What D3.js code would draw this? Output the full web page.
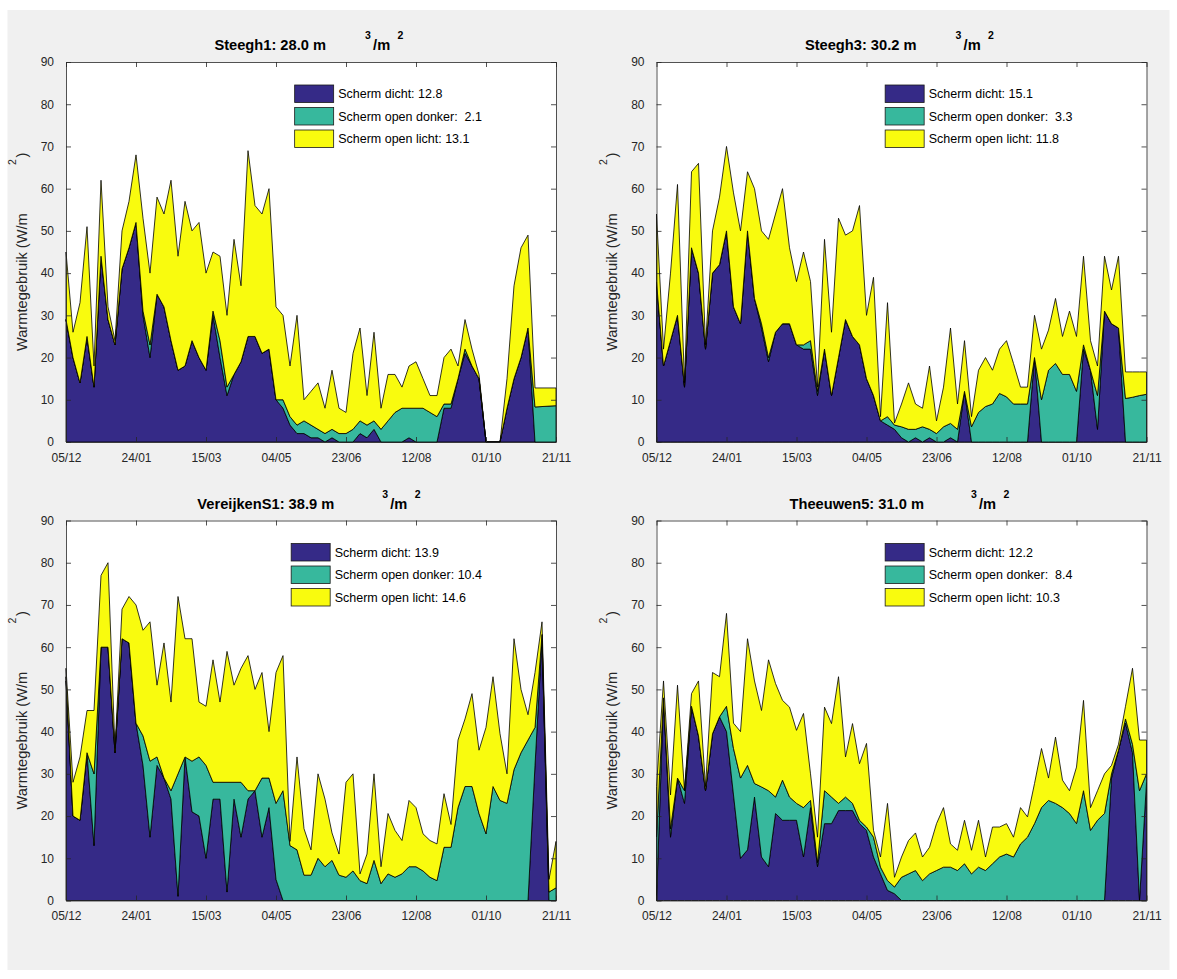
<!DOCTYPE html>
<html>
<head>
<meta charset="utf-8">
<script src="https://cdn.jsdelivr.net/npm/d3@7"></script>
<style>
body { margin: 0; background: #fff; }
text { white-space: pre; }
</style>
</head>
<body>
<svg id="fig" width="1177" height="979"></svg>
<script>
// Warmtegebruik per scherm-toestand, vier bedrijven
/* global d3 */

// x: dagen vanaf 05/12
var days = [0,5,10,15,20,25,30,35,40,45,50,55,60,65,70,75,80,85,90,95,100,105,110,115,120,125,130,135,140,145,150,155,160,165,170,175,180,185,190,195,200,205,210,215,220,225,230,235,240,245,250,255,260,265,270,275,280,285,290,295,300,305,310,315,320,325,330,335,340,345,350]
var tickDays = [0,50,100,150,200,250,300,350]
var tickLabels = ['05/12','24/01','15/03','04/05','23/06','12/08','01/10','21/11']
var yTicks = [0,10,20,30,40,50,60,70,80,90]

var seriesNames = ['Scherm dicht','Scherm open donker','Scherm open licht']
var colors = ['#352a87','#37b89d','#f9fb0e']

var panelNames = ['Steegh1','Steegh3','VereijkenS1','Theeuwen5']
var panelVolumes = ['28.0','30.2','38.9','31.0']
var legendTotals = [['12.8',' 2.1','13.1'],['15.1',' 3.3','11.8'],['13.9','10.4','14.6'],['12.2',' 8.4','10.3']]

// W/m2 per serie (gestapeld)
var steegh1Dicht = [29,20,14,25,13,44,29,23,41,46,52,30,20,35,32,24,17,18,24,20,17,30,20,11,16,19,25,25,21,22,10,8,4,2,2,1,1,0,1,0,0,0,2,1,3,0,0,0,0,1,0,0,0,0,8,8,15,21,18,15,0,0,0,8,15,20,27,0,0,0,0]
var steegh1Donker = [0,0,0,0,0,0,0,0,0,0,0,1,3,0,0,0,0,0,0,0,0,1,4,2,0,0,0,0,0,0,0,2,2,2,3,3,2,2,2,2,2,3,3,3,2,3,5,7,8,7,8,8,7,6,1,1,0,1,0,0,0,0,0,0,0,0,0,8.3,8.4,8.5,8.6]
var steegh1Licht = [16,6,19,26,5,18,3,1,9,11,16,22,17,23,22,38,27,39,26,32,23,14,20,17,32,18,44,31,33,38,22,20,12,26,5,8,11,6,14,6,5,18,22,7,21,5,11,9,5,10,11,7,4,5,11,13,3,7,4,1,0,0,0,7,22,26,22,4.5,4.4,4.3,4.2]

var steegh3Dicht = [38,18,24,30,13,46,40,22,40,42,50,32,28,50,34,27,19,26,28,28,23,22,22,11,22,11,20,29,25,23,15,11,5,4,3,1,0,1,0,1,0,0,1,0,12,0,0,0,0,0,0,0,0,0,20,0,0,0,0,0,0,22,17,3,31,28,27,0,0,0,0]
var steegh3Donker = [0,0,0,0,0,0,0,0,0,0,0,0,0,0,0,1,1,0,0,0,0,1,2,1,0,0,0,0,0,0,0,0,0,2,1,2.6,3,2,3.6,2,2,3.6,3.4,3,0,3.6,7,8.4,9,11.5,10.7,9,9,9,0,10,17,18.6,16,16,12,1,0,8,0,0,0,10.3,10.6,11,11.3]
var steegh3Licht = [16,4,16,31,1,18,26,1,10,16,20,27,22,14,26,22,28,28,32,18,15,22,14,1,26,15,33,20,25,33,15,28,1,27,0.5,5.4,11,6,4.4,15,3,9.4,22.6,6,12,2.4,10,11.6,8,10.5,13.3,9.6,4,4,10,12,9.5,15.4,9,15,13,21,7,7,13,8,17,6.3,6,5.6,5.3]

var vereijkenDicht = [52,20,19,35,13,60,60,35,62,61,42,32,15,32,29,24,1,34,21,20,10,24,24,2,24,15,24,26,15,22,5,0,0,0,0,0,0,0,0,0,0,0,0,0,0,0,0,0,0,0,0,0,0,0,0,0,0,0,0,0,0,0,0,0,0,0,0,32,62,0,0]
var vereijkenDonker = [1,0,0,0,17,0,0,0,0,0,0,7,18,2,0,2,29,0,12,14,22,4,4,26,4,13,2,0,14,7,18,26,13,12,6,6,10,8,9.5,6,5.5,7,4.7,4,9.5,4,6.3,5.5,6.3,8,8,7,5.5,4.7,12.6,12.6,22,27,27,20.6,15.8,27,23.7,23,31,35,38,9,1,2,3]
var vereijkenLicht = [2,8,15,10,15,17,20,1,7,11,28,25,33,17,32,21,42,28,29,13,14,29,19,31,23,27,32,24,25,11,31,32,1,22,11,6,20,16,6.5,5,22.5,23,1.6,7,20.5,4,14.3,11.1,7.9,15.7,14,8.8,8.7,8.7,12.7,5.4,16,16,22,15,25.2,26,15.8,7,31,15,6,13,3,3,11]

var theeuwenDicht = [0,48,15,29,23,46,39,26,39.5,43.5,40,25,10,12,24.5,10.3,8,20.6,19,19,19,10.3,22,8,18.2,18.2,21.3,21.3,21.3,18.2,16.6,10.3,6.3,2.4,1.6,0,0,0,0,0,0,0,0,0,0,0,0,0,0,0,0,0,0,0,0,0,0,0,0,0,0,0,0,0,0,29,35.6,42,35,0,28]
var theeuwenDonker = [15,0,2,0,3,0,0,0,0,0,6,11,19,20,3.2,16.6,18,3.9,9.5,5.5,4,11.7,1.7,1,7.8,6.3,1.7,3.2,1.7,0.8,0.8,4.7,1.6,2.3,1.6,5.5,6.3,7.1,4.7,6.3,7.1,7.9,7.9,7.1,8.7,6.3,7.9,7.1,8.7,10.3,11,10.3,13.4,15,18.2,22,23.7,23,22,20.6,18.2,26,16.6,19,20.6,1,0,1,2,26,2]
var theeuwenLicht = [12,4,8,22,0,3,13,1,14.5,9.5,22,6,11,30,24.3,18.1,31,26.9,18.9,21.3,17.3,22.3,6.3,6,19.8,17.4,30,9.5,18.9,13.4,19.8,1.6,2.4,18.3,2.3,4.8,7.9,8.9,5.6,6.3,11.1,14.1,5.5,4.8,10.3,5.6,11.1,3.2,8.7,7.1,7.2,4.7,8.6,4.8,9.5,14,5.3,15.7,6.5,5.4,13.4,21.4,5.4,7,9.4,2,1.4,3,18,12,8]

var FONT = '"Liberation Sans", Arial, Helvetica, sans-serif'
var INK = '#262626'
var W = 490, H = 380

var svg = d3.select('#fig')

// figure background
svg.append('rect').attr('x',7.5).attr('y',10).attr('width',1162).attr('height',960).attr('fill','#f0f0f0')

var panels = [
	{name: panelNames[0], volume: panelVolumes[0], totals: legendTotals[0], series: [steegh1Dicht, steegh1Donker, steegh1Licht], left: 66, top: 62},
	{name: panelNames[1], volume: panelVolumes[1], totals: legendTotals[1], series: [steegh3Dicht, steegh3Donker, steegh3Licht], left: 656.5, top: 62},
	{name: panelNames[2], volume: panelVolumes[2], totals: legendTotals[2], series: [vereijkenDicht, vereijkenDonker, vereijkenLicht], left: 66, top: 520.5},
	{name: panelNames[3], volume: panelVolumes[3], totals: legendTotals[3], series: [theeuwenDicht, theeuwenDonker, theeuwenLicht], left: 656.5, top: 520.5}
]

panels.forEach(function(p) {
	var g = svg.append('g').attr('transform','translate(' + p.left + ',' + p.top + ')')

	var x = d3.scaleLinear().domain([0,350]).range([0,W])
	var y = d3.scaleLinear().domain([0,90]).range([H,0])

	g.append('rect').attr('width',W).attr('height',H).attr('fill','#fff')

	// stacked areas
	var rows = days.map(function(d,i) {
		return {day: d, dicht: p.series[0][i], donker: p.series[1][i], licht: p.series[2][i]}
	})
	var layers = d3.stack().keys(['dicht','donker','licht'])(rows)
	var area = d3.area()
		.x(function(d) { return x(d.data.day) })
		.y0(function(d) { return y(d[0]) })
		.y1(function(d) { return y(d[1]) })

	g.selectAll('path.layer').data(layers)
		.enter().append('path')
		.attr('class','layer')
		.attr('d', area)
		.attr('fill', function(d,i) { return colors[i] })
		.attr('stroke','#000')
		.attr('stroke-width',0.8)
		.attr('stroke-linejoin','round')

	// axes, ticks inside on all four sides
	function style(sel) {
		sel.attr('font-family',FONT).attr('font-size',12)
		sel.selectAll('path,line').attr('stroke',INK).attr('stroke-width',0.8)
		sel.selectAll('text').attr('fill',INK)
	}
	g.append('g').attr('transform','translate(0,' + H + ')')
		.call(d3.axisBottom(x).tickValues(tickDays)
			.tickFormat(function(d,i) { return tickLabels[i] })
			.tickSizeInner(-5).tickSizeOuter(0).tickPadding(11))
		.call(style)
	g.append('g')
		.call(d3.axisTop(x).tickValues(tickDays).tickFormat('').tickSizeInner(-5).tickSizeOuter(0))
		.call(style)
	g.append('g')
		.call(d3.axisLeft(y).tickValues(yTicks).tickSizeInner(-5).tickSizeOuter(0).tickPadding(12))
		.call(style)
	g.append('g').attr('transform','translate(' + W + ',0)')
		.call(d3.axisRight(y).tickValues(yTicks).tickFormat('').tickSizeInner(-5).tickSizeOuter(0))
		.call(style)

	// legend
	var lg = g.append('g').attr('font-family',FONT).attr('font-size',12.5).attr('fill','#000')
	var labels = seriesNames.map(function(n,i) { return n + ': ' + p.totals[i] })
	var items = lg.selectAll('text').data(labels).enter().append('text').text(function(d) { return d })
	var mw = d3.max(items.nodes(), function(n) { return n.getComputedTextLength() })
	var px = 418 - 2 - mw - 43.5
	labels.forEach(function(l,i) {
		lg.append('rect')
			.attr('x',px).attr('y',23 + i*22.5)
			.attr('width',39).attr('height',17.5)
			.attr('fill',colors[i]).attr('stroke','#1a1a1a').attr('stroke-width',0.8)
	})
	items.attr('x',px + 43.5).attr('y',function(d,i) { return 23 + i*22.5 + 13.2 })

	// title with the odd superscript spacing
	var tg = svg.append('g').attr('font-family',FONT).attr('font-weight','bold').attr('fill','#000')
	var main = tg.append('text').attr('font-size',14.67).text(p.name + ': ' + p.volume + ' m')
	var w = main.node().getComputedTextLength()
	var sx = p.left + W/2 - 2 - (1.35*w + 38.5)/2
	var by = p.top - 12
	main.attr('x',sx).attr('y',by)
	tg.append('text').attr('font-size',10.5).attr('x',sx + 1.35*w).attr('y',by - 11).text('3')
	tg.append('text').attr('font-size',14.67).attr('x',sx + 1.35*w + 8).attr('y',by).text('/m')
	tg.append('text').attr('font-size',10.5).attr('x',sx + 1.35*w + 32.5).attr('y',by - 11).text('2')

	// y label, same spacing glitch
	var yg = svg.append('g').attr('font-family',FONT).attr('fill',INK)
	var lbl = yg.append('text').attr('font-size',14.67).text('Warmtegebruik (W/m')
	var L = lbl.node().getComputedTextLength()
	var sy = p.top + H/2 + (1.35*L + 12)/2
	var bx = p.left - 39.5
	lbl.attr('transform','translate(' + bx + ',' + sy + ') rotate(-90)')
	yg.append('text').attr('font-size',10.5)
		.attr('transform','translate(' + (bx - 10.5) + ',' + (sy - 1.35*L) + ') rotate(-90)').text('2')
	yg.append('text').attr('font-size',14.67)
		.attr('transform','translate(' + bx + ',' + (sy - 1.35*L - 7.5) + ') rotate(-90)').text(')')
})
</script>
</body>
</html>
